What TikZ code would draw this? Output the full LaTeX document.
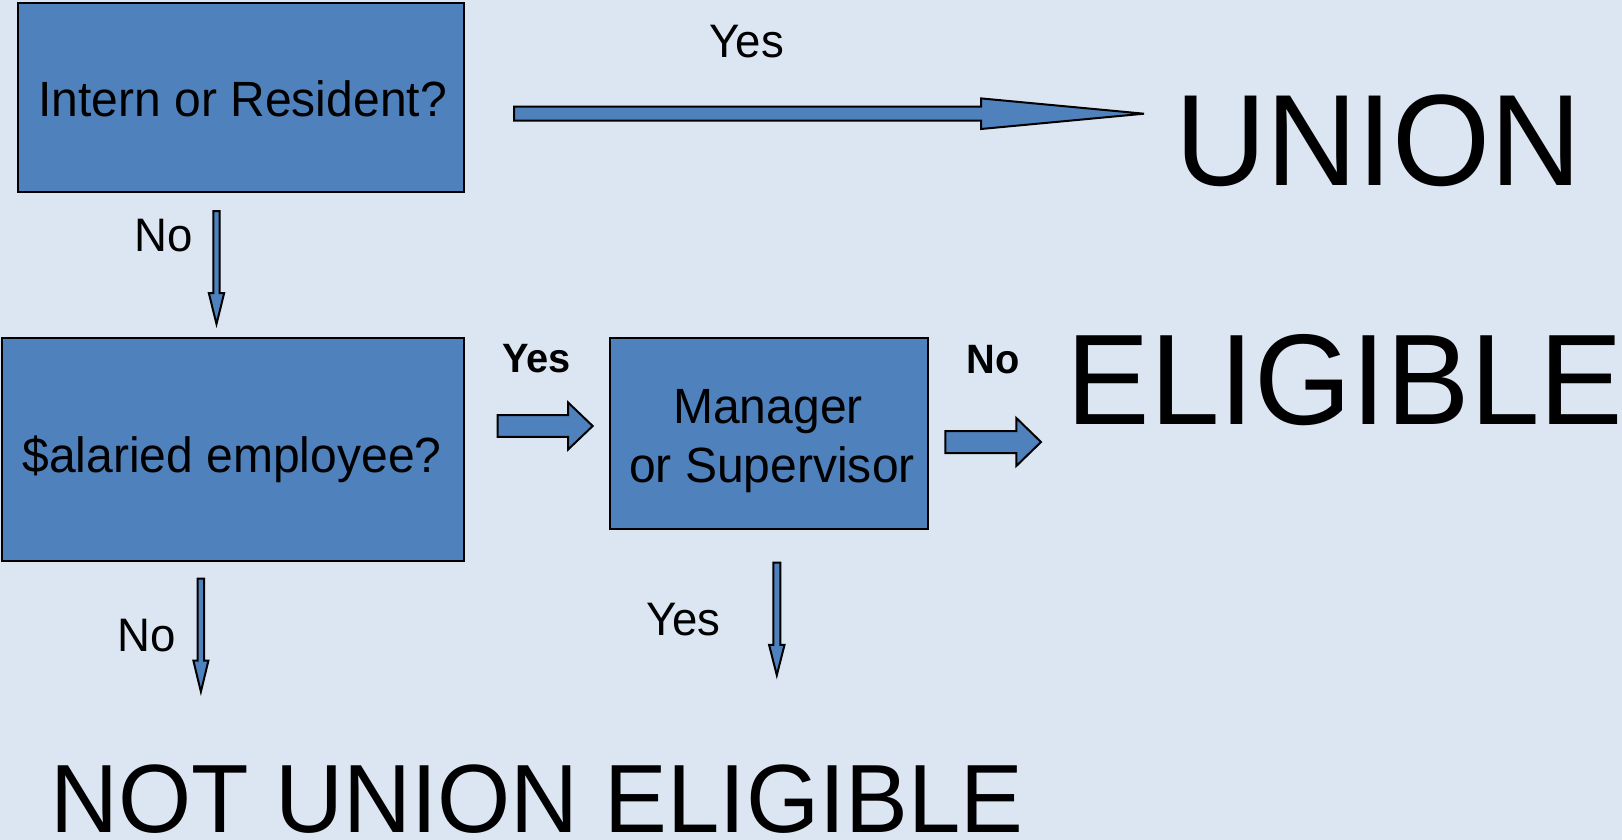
\documentclass[tikz,border=0pt]{standalone}
\usepackage{fontspec}
\setmainfont[FakeStretch=0.97]{Liberation Sans}
\definecolor{bg}{HTML}{DCE6F2}
\definecolor{boxblue}{HTML}{4F81BD}
\begin{document}
\begin{tikzpicture}[x=1pt,y=-1pt,
  box/.style={draw=black,line width=2pt,fill=boxblue,inner sep=0pt},
  arrowshape/.style={draw=black,line width=2pt,fill=boxblue},
  lbl/.style={anchor=base,inner sep=0pt,font=\fontsize{47}{56}\selectfont},
  blbl/.style={anchor=base,inner sep=0pt,font=\bfseries\fontsize{41}{49}\selectfont},
  boxtext/.style={anchor=base,inner sep=0pt,font=\fontsize{49.5}{59}\selectfont},
  outcome/.style={anchor=base,inner sep=0pt},
  pics/barrow/.style n args={4}{code={
    \draw[arrowshape] (0,-#2) -- ({#1-#4},-#2) -- ({#1-#4},-#3) -- (#1,0)
      -- ({#1-#4},#3) -- ({#1-#4},#2) -- (0,#2) -- cycle;
  }}
]
\fill[bg] (0,0) rectangle (1622,840);
\useasboundingbox (0,0) rectangle (1622,840);

% decision boxes
\node[box,minimum width=445.8pt,minimum height=189.6pt] (q1) at (240.6,97.5) {};
\node[box,minimum width=462pt,minimum height=222.7pt] (q2) at (233,449.35) {};
\node[box,minimum width=318.6pt,minimum height=191pt] (q3) at (769,433.5) {};

% box texts
\node[boxtext] (t1) at (242.7,116.7) {Intern or Resident?};
\node[boxtext] (t2) at (232,472.5) {\$alaried employee?};
\node[boxtext] (t3a) at (768,423.3) {Manager};
\node[boxtext] (t3b) at (772,482.7) {or Supervisor};

% outcomes
\node[outcome,font=\fontsize{130}{150}\selectfont] (union) at (1378.7,185) {UNION};
\node[outcome,font=\fontsize{129}{150}\selectfont] (elig) at (1345,424) {ELIGIBLE};
\node[outcome,font=\fontsize{97}{115}\selectfont] (notu) at (537,832.7) {NOT UNION ELIGIBLE};

% block arrows
\pic at (514,113.7) {barrow={630}{7}{15.3}{163}};
\pic[rotate=-90] at (216.5,211) {barrow={113}{3.2}{7.7}{31}};
\pic at (497.7,426) {barrow={95}{10.9}{23.5}{24.6}};
\pic at (945.3,442) {barrow={95.7}{11}{24}{24.7}};
\pic[rotate=-90] at (200.9,578.7) {barrow={113}{3.2}{7.5}{31}};
\pic[rotate=-90] at (776.8,562.7) {barrow={112.5}{3.5}{7.7}{30.3}};

% labels
\node[lbl] (yes1) at (746.7,57.3) {Yes};
\node[lbl] (no1) at (163.3,251) {No};
\node[blbl] (yes2) at (536.7,372.7) {Yes};
\node[blbl] (no2) at (993,373.3) {No};
\node[lbl] (no3) at (147,651) {No};
\node[lbl] (yes3) at (683.3,635) {Yes};
\end{tikzpicture}
\end{document}
